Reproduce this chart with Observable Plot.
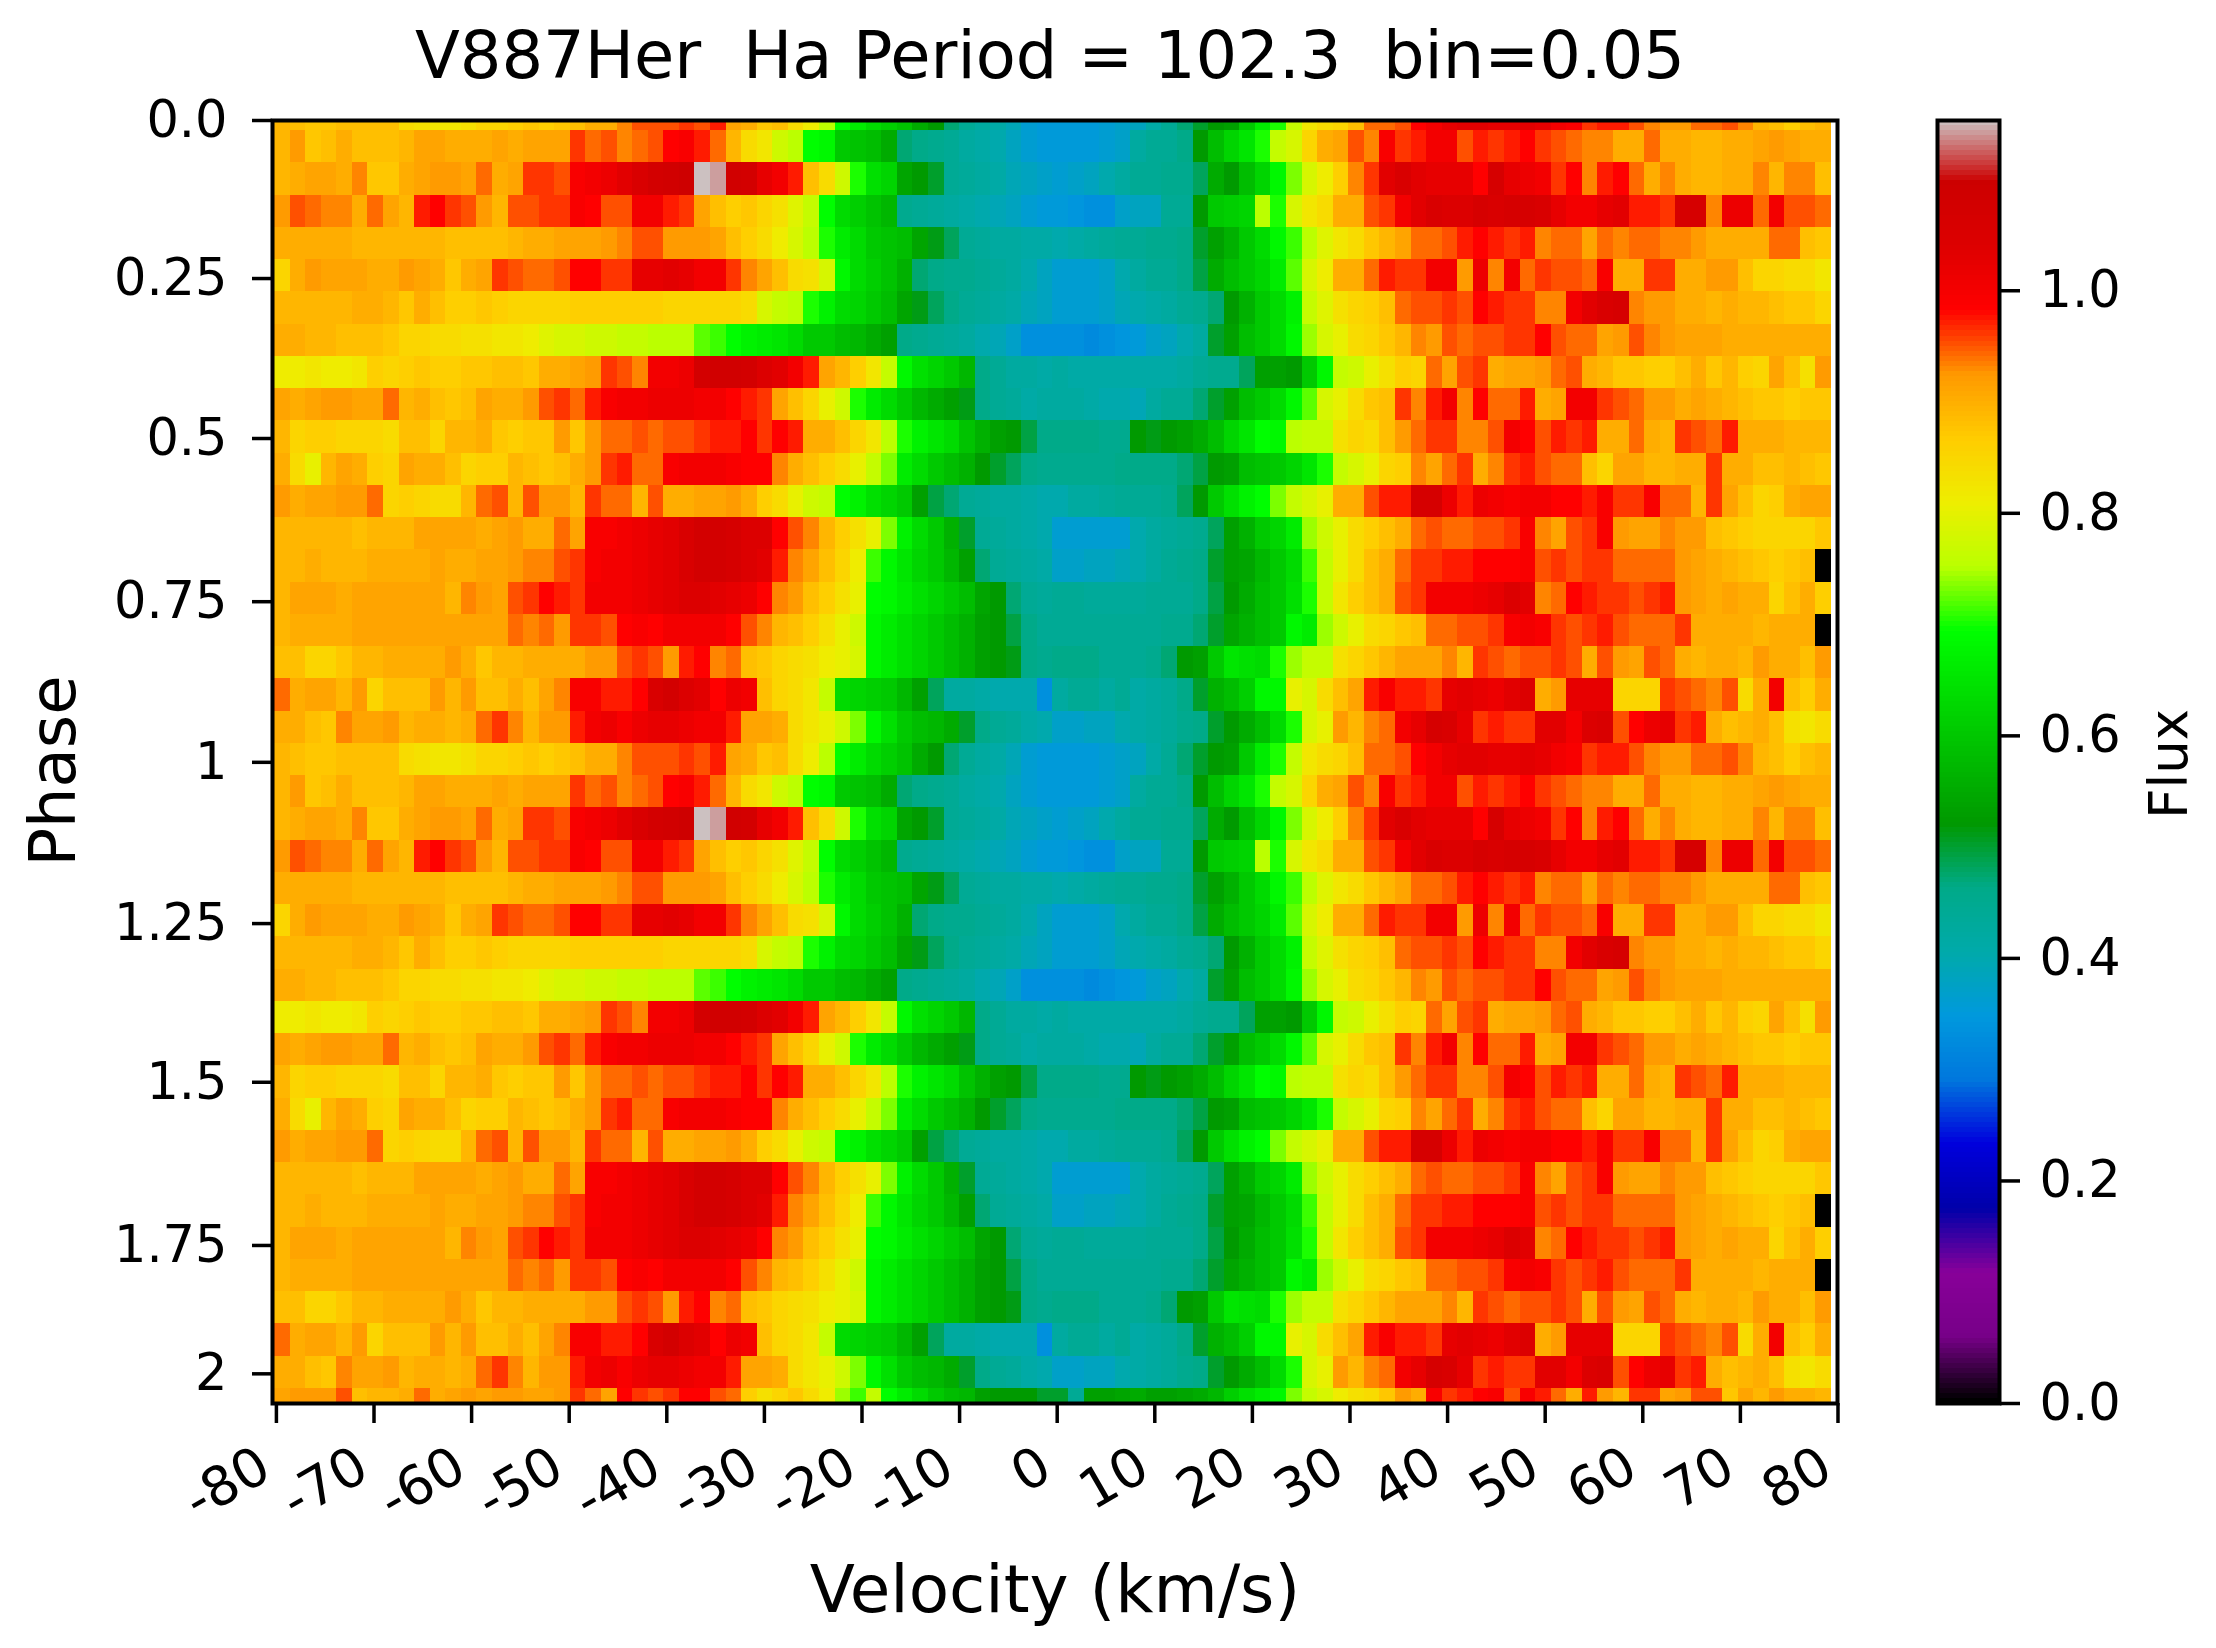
<!DOCTYPE html>
<html>
<head>
<meta charset="utf-8">
<script src="https://cdn.jsdelivr.net/npm/d3@7"></script>
<script src="https://cdn.jsdelivr.net/npm/@observablehq/plot@0.6"></script>
<style>
  body { margin: 0; background: white; }
  #chart { display: flex; width: 2216px; height: 1648px; }
  #chart svg { flex: none; }
</style>
</head>
<body>
<div id="chart"></div>
<script>
// flux x 100, one list per phase bin, 100 velocity bins from blue to red side
const row00 = [89,88,87,87,88,88,88,88,84,83,82,82,83,85,85,86,87,86,87,88,90,90,93,95,95,95,96,95,97,91,90,87,88,84,81,75,69,66,63,61,59,55,52,47,44,42,41,39,36,35,
  35,35,35,36,37,38,41,44,47,50,52,53,60,66,70,76,82,84,85,88,94,94,95,98,100,102,103,103,102,102,103,102,100,99,96,97,97,95,93,92,92,94,94,95,93,89,88,86,88,89];
const row01 = [89,92,87,88,90,88,88,88,89,91,91,90,90,90,91,90,91,91,91,96,94,95,93,94,95,98,99,97,94,89,84,82,77,75,69,68,60,59,58,55,47,46,45,44,42,41,40,38,36,35,
  35,35,35,36,37,42,44,44,46,52,58,62,65,70,76,78,85,90,91,95,93,99,96,97,100,100,95,97,96,97,98,96,95,94,93,93,90,90,94,90,90,89,89,90,90,91,92,91,90,90];
const row02 = [89,90,91,91,90,93,87,87,90,91,92,92,91,94,90,91,96,96,95,99,100,101,103,105,107,108,109,115,114,108,107,102,100,97,88,84,77,70,64,62,54,52,50,44,43,42,41,39,38,37,
  36,37,38,40,42,44,44,45,45,48,55,52,58,62,68,73,78,81,86,93,96,103,105,103,102,102,102,98,106,102,101,100,96,98,93,97,98,94,90,93,90,89,89,90,90,93,89,93,93,88];
const row03 = [92,95,94,93,93,90,94,91,89,97,98,96,95,92,89,95,95,96,96,99,98,95,95,100,100,97,96,91,88,86,87,85,83,79,76,69,63,61,59,57,45,44,43,42,41,40,39,38,36,35,
  35,34,33,33,37,38,38,44,44,52,60,61,62,75,70,78,82,84,90,90,95,96,100,103,105,104,104,106,105,106,106,105,102,100,100,102,103,97,97,96,106,106,93,101,101,94,100,95,95,94];
const row04 = [90,90,90,90,90,89,89,89,89,89,89,88,88,88,88,89,90,90,91,91,91,92,93,95,95,92,92,92,91,88,86,84,81,78,75,70,66,63,60,59,58,54,51,48,44,43,42,42,41,41,
  40,41,42,43,44,44,45,45,46,50,53,56,60,63,68,71,75,79,82,84,87,89,91,94,94,95,97,98,97,96,97,93,94,94,91,94,93,94,94,93,93,92,90,90,90,90,94,94,88,87];
const row05 = [85,90,92,91,91,91,90,90,92,91,90,87,90,91,96,95,94,94,95,98,98,96,96,102,102,103,102,100,100,96,93,91,88,84,83,78,68,63,61,59,56,47,46,45,45,44,43,42,40,38,
  36,36,36,37,40,42,44,44,46,49,55,58,60,62,66,72,78,81,90,90,94,97,96,96,100,100,92,101,93,100,94,96,95,95,94,99,90,90,96,96,90,90,92,92,88,85,85,84,84,82];
const row06 = [89,89,89,89,89,90,90,89,87,90,88,86,86,87,86,85,85,85,85,86,86,86,86,86,86,85,85,85,85,85,84,78,76,75,70,67,63,62,60,58,54,51,48,46,44,43,42,41,39,38,
  36,36,36,37,39,40,41,42,44,45,47,52,56,60,63,67,76,79,83,85,86,88,94,95,95,96,95,98,97,96,96,93,93,100,103,105,106,93,92,92,90,90,89,90,89,89,88,87,87,85];
const row07 = [90,90,89,89,88,88,88,87,85,85,84,84,83,83,82,82,81,79,78,78,77,77,76,76,75,75,75,72,71,69,67,66,65,63,60,60,58,57,55,53,46,45,44,43,42,40,39,37,33,33,
  33,33,32,33,34,35,37,38,40,42,50,53,58,60,63,68,74,78,80,84,85,87,89,93,92,95,94,95,95,96,96,98,95,94,94,91,92,95,93,92,91,91,91,90,90,90,90,90,90,90];
const row08 = [81,81,82,81,81,82,86,85,86,87,86,86,87,87,88,88,87,90,90,91,92,96,95,93,100,100,101,107,108,108,107,104,103,100,97,91,89,86,82,76,68,64,62,60,57,46,44,42,42,41,
  42,41,41,41,41,41,41,41,42,44,45,45,48,53,53,52,60,68,76,77,80,83,86,85,94,91,95,96,90,91,91,92,94,95,90,89,87,87,86,86,88,90,87,89,86,85,91,88,83,92];
const row09 = [91,90,91,92,92,91,91,94,89,90,88,87,88,91,90,90,92,95,96,94,97,99,100,100,101,101,101,100,100,98,97,96,91,88,85,80,77,70,66,63,60,57,55,53,51,46,44,43,41,42,
  42,42,41,40,40,39,42,44,44,47,50,53,58,60,63,68,72,78,80,84,87,88,96,93,97,100,93,98,94,94,97,90,91,100,100,96,95,94,92,92,90,91,90,89,88,87,87,86,87,87];
const row10 = [89,85,86,86,85,85,85,84,88,88,85,89,89,90,87,86,87,87,92,87,92,94,94,95,94,95,95,96,97,97,98,96,98,97,90,90,88,85,82,75,70,67,65,63,59,56,53,52,49,46,
  46,46,46,45,45,52,51,52,53,55,58,62,65,69,68,75,76,76,83,85,84,88,92,94,96,96,93,93,95,100,98,95,97,96,97,90,90,94,90,89,96,95,94,97,90,90,90,89,89,89];
const row11 = [90,84,80,89,91,90,86,85,91,90,90,88,85,86,86,89,88,87,88,90,92,96,97,94,94,99,100,100,100,99,98,98,93,90,88,86,84,80,76,73,66,63,60,58,56,52,50,48,46,45,
  45,45,45,45,46,46,46,46,47,49,52,53,58,59,60,62,65,70,76,78,80,85,86,93,91,94,96,90,93,96,97,95,94,94,88,85,91,91,89,89,90,90,96,90,90,88,88,89,88,87];
const row12 = [92,90,91,91,92,92,94,85,86,85,84,84,89,94,95,89,95,92,92,89,96,94,94,89,95,90,90,91,91,92,90,86,84,80,77,76,69,67,64,62,60,53,49,47,44,43,42,42,41,40,
  40,42,42,43,44,44,44,45,48,52,60,64,67,69,73,76,78,80,90,90,95,97,97,106,106,101,97,101,100,99,100,100,98,98,97,99,96,96,99,94,94,89,96,91,88,85,86,90,91,91];
const row13 = [89,89,89,89,89,88,89,89,89,91,91,91,91,90,91,92,90,90,94,91,99,99,100,101,102,103,105,107,107,106,104,104,98,95,93,89,86,83,80,73,67,63,60,56,50,44,43,42,41,40,
  36,36,36,36,36,40,42,43,44,45,48,53,56,60,62,66,74,77,80,84,86,88,90,94,95,94,94,95,95,96,99,93,91,95,96,99,92,91,91,93,92,92,88,87,86,85,85,85,85,87];
const row14 = [89,89,90,89,89,89,90,90,90,90,91,90,90,91,91,92,93,93,95,96,99,100,100,101,102,103,105,107,107,106,104,103,97,93,91,88,85,81,71,68,65,62,60,57,53,47,44,43,42,41,
  37,37,38,38,39,40,42,44,45,46,50,53,54,57,60,63,71,76,80,84,88,90,94,96,96,97,97,98,98,98,99,95,96,95,96,96,94,94,94,94,92,91,90,89,88,87,86,87,88,0];
const row15 = [89,91,91,91,90,91,91,91,91,91,91,89,93,92,91,95,96,98,97,96,100,100,100,101,102,103,104,104,103,102,101,98,93,92,88,86,83,80,69,68,66,64,62,60,58,54,52,47,44,43,
  44,44,43,43,43,43,44,44,44,46,49,52,55,58,60,64,70,76,82,86,88,90,95,96,100,100,100,101,102,104,103,93,94,98,97,96,96,95,96,97,92,91,90,91,90,90,85,88,90,86];
const row16 = [89,90,90,90,90,91,91,91,91,91,91,91,91,91,91,94,93,94,92,96,96,95,98,99,98,100,100,100,100,98,95,93,89,88,86,83,80,77,68,66,64,62,60,58,56,53,52,49,46,44,
  44,44,44,44,44,44,44,45,45,47,50,54,56,58,60,68,66,74,77,80,84,85,87,88,94,94,95,95,96,99,100,99,96,95,96,97,95,94,94,94,96,90,90,90,90,89,90,90,90,0];
const row17 = [88,88,85,85,87,89,89,90,90,90,90,92,90,87,89,89,90,90,90,90,92,92,95,96,95,92,97,98,93,94,88,87,85,84,83,81,80,78,68,66,64,62,60,58,56,53,52,51,46,45,
  46,46,46,44,44,44,45,47,52,53,60,65,64,63,70,74,76,76,83,85,87,89,91,91,91,93,89,96,95,94,95,95,96,95,90,95,92,91,95,94,90,89,90,90,89,92,90,90,88,92];
const row18 = [94,90,91,91,89,92,85,88,88,88,92,89,92,88,88,90,88,91,93,99,99,97,97,98,105,107,104,103,98,101,100,88,85,84,82,76,63,62,61,60,57,53,48,42,42,41,40,40,40,33,
  42,44,44,42,44,41,42,43,46,50,56,58,61,68,68,80,78,84,88,91,97,99,97,97,96,102,103,102,101,103,104,90,92,102,102,102,85,85,85,96,95,94,93,95,84,90,100,88,86,90];
const row19 = [90,90,88,87,93,91,91,92,89,90,90,89,90,94,96,93,89,92,92,97,100,101,99,101,102,102,101,100,100,97,91,91,90,84,82,80,77,73,68,64,60,58,57,55,50,46,44,43,41,40,
  37,37,38,38,40,41,42,43,45,46,50,52,55,58,63,70,78,80,92,89,93,94,100,102,106,105,102,96,97,96,96,103,103,100,104,105,95,98,101,102,96,97,90,88,89,90,88,83,82,84];
const rowLast = [91,92,92,92,95,88,89,89,90,94,90,91,92,91,92,92,91,91,92,96,94,91,98,96,95,96,98,98,95,94,86,83,85,87,84,81,74,71,76,69,66,63,60,58,57,53,52,52,52,50,
  50,44,53,53,54,55,53,53,54,55,57,61,64,66,68,73,76,78,81,83,84,87,92,90,99,96,97,98,99,95,99,97,94,90,97,92,89,96,96,91,92,95,95,87,91,89,92,90,90,89];

// the phases are plotted twice so the rows repeat after 20 bins
const foldedRows = [row00, row01, row02, row03, row04, row05, row06, row07, row08, row09,
                    row10, row11, row12, row13, row14, row15, row16, row17, row18, row19];

const velocityTicks = [-80, -70, -60, -50, -40, -30, -20, -10, 0, 10, 20, 30, 40, 50, 60, 70, 80];
const phaseTickPositions = [0, 0.245, 0.493, 0.746, 0.995, 1.245, 1.491, 1.744, 1.943];
const phaseTickLabels = ["0.0", "0.25", "0.5", "0.75", "1", "1.25", "1.5", "1.75", "2"];
const fluxTicks = [0, 0.2, 0.4, 0.6, 0.8, 1.0];

// nipy_spectral
const fluxMax = 1.153;
const spectralStops = [0, .05, .1, .15, .2, .25, .3, .35, .4, .45, .5, .55, .6, .65, .7, .75, .8, .85, .9, .95, 1];
const spectralColors = ["#000000", "#770088", "#880099", "#0000aa", "#0000dd", "#0077dd", "#0099dd", "#00aaaa", "#00aa88", "#009900", "#00bb00", "#00dd00", "#00ff00", "#bbff00", "#eeee00", "#ffcc00", "#ff9900", "#ff0000", "#dd0000", "#cc0000", "#cccccc"];

const velocityStart = -80.2, velocityStep = 1.5954;
const phaseStart = 0.0155, phaseStep = 0.05, phaseEnd = 1.989;

const fluxColor = {
    type: "linear",
    domain: spectralStops.map(s => s * fluxMax),
    range: spectralColors
};

let cells = [];
for (let k = 0; k <= 40; k++) {
    let values = k == 40 ? rowLast : foldedRows[k % 20];
    values.forEach((v, i) => {
        cells.push({
            v1: velocityStart + i * velocityStep,
            v2: velocityStart + (i + 1) * velocityStep,
            p1: k == 0 ? 0 : phaseStart + (k - 1) * phaseStep,
            p2: k == 40 ? phaseEnd : phaseStart + k * phaseStep,
            flux: v / 100
        });
    });
}

const font = "DejaVu Sans";

let heatmap = Plot.plot({
    width: 1880,
    height: 1648,
    marginLeft: 272,
    marginRight: 43,
    marginTop: 120,
    marginBottom: 245,
    style: {background: "transparent", fontFamily: font, color: "black"},
    x: {domain: [-80.4, 79.95]},
    y: {domain: [0, phaseEnd], reverse: true},
    color: fluxColor,
    marks: [
        Plot.rect(cells, {x1: "v1", x2: "v2", y1: "p1", y2: "p2", fill: "flux", shapeRendering: "crispEdges"}),
        Plot.frame({stroke: "black", strokeWidth: 4}),
        // ticks and rotated labels apart, the labels sit a bit left of their tick
        Plot.axisX({ticks: velocityTicks, tickFormat: () => "", tickSize: 20, strokeWidth: 3.5, label: null}),
        Plot.axisX({ticks: velocityTicks, tickFormat: d => String(d), tickRotate: -30, tickSize: 0, tickPadding: 58, dx: -11, fontSize: 54, label: null}),
        Plot.axisY({ticks: phaseTickPositions, tickFormat: (d, i) => phaseTickLabels[i], tickSize: 20, tickPadding: 25, fontSize: 51, strokeWidth: 3.5, label: null}),
        Plot.text(["V887Her  Ha Period = 102.3  bin=0.05"], {frameAnchor: "top", dx: -5, dy: -63, fontSize: 65.5, lineAnchor: "middle"}),
        Plot.text(["Velocity (km/s)"], {frameAnchor: "bottom", dy: 187, fontSize: 66, lineAnchor: "middle"}),
        Plot.text(["Phase"], {frameAnchor: "left", textAnchor: "middle", dx: -218, dy: 9, fontSize: 64, rotate: -90, lineAnchor: "middle"})
    ]
});

const colorbarLevels = d3.range(0, fluxMax, fluxMax / 256);

let colorbar = Plot.plot({
    width: 336,
    height: 1648,
    marginLeft: 57,
    marginRight: 217,
    marginTop: 120,
    marginBottom: 245,
    style: {background: "transparent", fontFamily: font, color: "black"},
    x: {domain: [0, 1], axis: null},
    y: {domain: [0, fluxMax]},
    color: fluxColor,
    marks: [
        Plot.rect(colorbarLevels, {x1: 0, x2: 1, y1: d => d, y2: d => d + fluxMax / 256, fill: d => d, shapeRendering: "crispEdges"}),
        Plot.frame({stroke: "black", strokeWidth: 4}),
        Plot.axisY({anchor: "right", ticks: fluxTicks, tickFormat: d3.format(".1f"), tickSize: 20, tickPadding: 20, fontSize: 51, strokeWidth: 3.5, label: null}),
        Plot.text(["Flux"], {frameAnchor: "right", textAnchor: "middle", dx: 171, dy: 2, fontSize: 53, rotate: -90, lineAnchor: "middle"})
    ]
});

let elem = document.getElementById("chart");
elem.append(heatmap);
elem.append(colorbar);
</script>
</body>
</html>
